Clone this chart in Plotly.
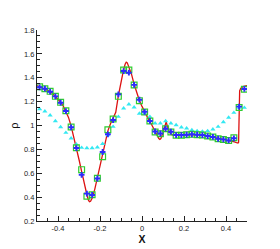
import plotly.graph_objects as go

# cell-centre positions of the discrete solutions
x_cells = [-0.4875, -0.4625, -0.4375, -0.4125, -0.3875, -0.3625, -0.3375, -0.3125,
           -0.2875, -0.2625, -0.2375, -0.2125, -0.1875, -0.1625, -0.1375, -0.1125,
           -0.0875, -0.0625, -0.0375, -0.0125, 0.0125, 0.0375, 0.0625, 0.0875,
           0.1125, 0.1375, 0.1625, 0.1875, 0.2125, 0.2375, 0.2625, 0.2875,
           0.3125, 0.3375, 0.3625, 0.3875, 0.4125, 0.4375, 0.4625, 0.4875]

rho_squares = [1.325, 1.308, 1.286, 1.244, 1.194, 1.124, 0.987, 0.814, 0.630, 0.407,
               0.420, 0.558, 0.739, 0.965, 1.054, 1.244, 1.465, 1.465, 1.339, 1.208,
               1.113, 1.038, 0.945, 0.931, 0.973, 0.945, 0.918, 0.918, 0.923, 0.926,
               0.923, 0.920, 0.912, 0.904, 0.889, 0.883, 0.874, 0.898, 1.151, 1.304]

rho_plus = [1.320, 1.308, 1.283, 1.244, 1.191, 1.121, 0.985, 0.811, 0.587, 0.429,
            0.418, 0.556, 0.778, 0.926, 1.046, 1.261, 1.456, 1.442, 1.340, 1.216,
            1.115, 1.038, 0.950, 0.933, 0.973, 0.948, 0.920, 0.920, 0.923, 0.926,
            0.923, 0.920, 0.912, 0.904, 0.889, 0.884, 0.875, 0.893, 1.158, 1.306]

rho_tri = [1.138, 1.119, 1.085, 1.037, 0.987, 0.940, 0.893, 0.842, 0.814, 0.811,
           0.811, 0.817, 0.847, 0.920, 0.990, 1.074, 1.144, 1.177, 1.152, 1.100,
           1.102, 1.074, 1.018, 1.018, 1.037, 1.018, 1.004, 0.985, 0.976, 0.962,
           0.954, 0.950, 0.954, 0.968, 0.990, 1.029, 1.067, 1.107, 1.149, 1.149]

# reference (fine-grid) solution
x_ref = [-0.5, -0.4875, -0.475, -0.4625, -0.45, -0.4375, -0.425, -0.4125, -0.4, -0.3875,
         -0.375, -0.3625, -0.35, -0.3375, -0.325, -0.3125, -0.3, -0.2875, -0.275, -0.2625,
         -0.255, -0.25, -0.245, -0.2375, -0.225, -0.2125, -0.2, -0.1875, -0.175, -0.1625,
         -0.15, -0.1375, -0.125, -0.1125, -0.1, -0.0875, -0.08, -0.075, -0.07, -0.0625,
         -0.05, -0.0375, -0.025, -0.0125, 0.0, 0.0125, 0.025, 0.0375, 0.05, 0.0625,
         0.075, 0.08, 0.085, 0.09, 0.1, 0.11, 0.115, 0.12, 0.13, 0.14,
         0.15, 0.175, 0.2, 0.25, 0.3, 0.35, 0.4, 0.425, 0.44, 0.45,
         0.457, 0.46, 0.462, 0.465, 0.47, 0.48, 0.5]
rho_ref = [1.335, 1.325, 1.317, 1.307, 1.297, 1.284, 1.266, 1.245, 1.222, 1.195,
           1.163, 1.122, 1.068, 0.995, 0.910, 0.815, 0.715, 0.615, 0.510, 0.420,
           0.375, 0.362, 0.365, 0.390, 0.465, 0.560, 0.655, 0.760, 0.860, 0.955,
           1.015, 1.060, 1.110, 1.250, 1.375, 1.470, 1.515, 1.530, 1.525, 1.495,
           1.430, 1.345, 1.275, 1.210, 1.160, 1.112, 1.072, 1.035, 0.990, 0.945,
           0.905, 0.890, 0.884, 0.890, 0.940, 1.010, 1.030, 1.000, 0.945, 0.925,
           0.918, 0.917, 0.920, 0.923, 0.918, 0.900, 0.878, 0.868, 0.862, 0.856,
           0.853, 0.860, 1.100, 1.290, 1.310, 1.325, 1.333]

x_tickvals = [-0.4, -0.2, 0.0, 0.2, 0.4]
x_ticktext = ["-0.4", "-0.2", "0", "0.2", "0.4"]
y_tickvals = [0.2, 0.4, 0.6, 0.8, 1.0, 1.2, 1.4, 1.6, 1.8]
y_ticktext = ["0.2", "0.4", "0.6", "0.8", "1", "1.2", "1.4", "1.6", "1.8"]

fig = go.Figure()
fig.add_trace(go.Scatter(x=x_ref, y=rho_ref, mode="lines",
                         line=dict(color="#dd1111", width=1.3), showlegend=False))
fig.add_trace(go.Scatter(x=x_cells, y=rho_tri, mode="markers",
                         marker=dict(symbol="triangle-up", size=4.5, color="#33e8f2",
                                     line=dict(width=0)), showlegend=False))
fig.add_trace(go.Scatter(x=x_cells, y=rho_squares, mode="markers",
                         marker=dict(symbol="square-open", size=5.8, color="#2ecc2e",
                                     line=dict(width=1.2)), showlegend=False))
fig.add_trace(go.Scatter(x=x_cells, y=rho_plus, mode="markers",
                         marker=dict(symbol="cross", size=4.8, color="#2b2bff",
                                     line=dict(width=0)), showlegend=False))

axis_font = dict(family="Liberation Sans, Arial, sans-serif", size=7.5, color="#222222")
fig.update_layout(
    width=280, height=249,
    margin=dict(l=37, r=33, t=30, b=28, autoexpand=False),
    paper_bgcolor="white", plot_bgcolor="white",
    xaxis=dict(range=[-0.5, 0.5], tickmode="array", tickvals=x_tickvals, ticktext=x_ticktext,
               ticks="inside", ticklen=4.5, tickwidth=1, tickcolor="#222222",
               showline=True, linecolor="#222222", linewidth=1.2, mirror=False,
               showgrid=False, zeroline=False, tickfont=axis_font, automargin=False,
               minor=dict(dtick=0.05, tick0=0, ticks="inside", ticklen=2.5,
                          tickcolor="#222222", showgrid=False),
               title=dict(text="<b>X</b>", font=dict(family="Liberation Sans, Arial, sans-serif",
                                                     size=10.5, color="#111111"), standoff=1)),
    yaxis=dict(range=[0.2, 1.8], tickmode="array", tickvals=y_tickvals, ticktext=y_ticktext,
               ticks="inside", ticklen=4.5, tickwidth=1, tickcolor="#222222",
               showline=True, linecolor="#222222", linewidth=1.2, mirror=False,
               showgrid=False, zeroline=False, tickfont=axis_font, automargin=False,
               minor=dict(dtick=0.05, tick0=0, ticks="inside", ticklen=2.5,
                          tickcolor="#222222", showgrid=False),
               title=dict(text="ρ", font=dict(family="Liberation Sans, Arial, sans-serif",
                                              size=11, color="#111111"), standoff=3)),
)

fig.write_html("out.html", config={"displayModeBar": False},
               post_script="document.body.style.margin='0px';document.body.style.overflow='hidden';")
